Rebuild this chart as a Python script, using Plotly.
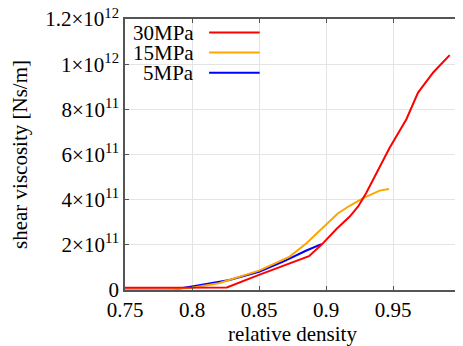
import plotly.graph_objects as go

# 30MPa
x30 = [0.75, 0.80, 0.826, 0.85, 0.8873, 0.8966, 0.9078, 0.9177, 0.924, 0.930, 0.9475, 0.96, 0.9687, 0.98, 0.9923]
y30 = [1.0e10, 1.0e10, 1.1e10, 6.7e10, 1.5e11, 2.0e11, 2.7e11, 3.25e11, 3.7e11, 4.3e11, 6.3e11, 7.56e11, 8.74e11, 9.63e11, 1.04e12]
# 15MPa
x15 = [0.75, 0.78, 0.80, 0.82, 0.85, 0.8729, 0.8854, 0.8978, 0.909, 0.9177, 0.9277, 0.940, 0.947]
y15 = [2e9, 2e9, 1.0e10, 3.0e10, 8.6e10, 1.48e11, 2.07e11, 2.79e11, 3.4e11, 3.73e11, 4.07e11, 4.4e11, 4.47e11]
# 5MPa
x5 = [0.75, 0.775, 0.7858, 0.80, 0.8207, 0.828, 0.85, 0.868, 0.8854, 0.8966]
y5 = [0, 0, 2e9, 1.5e10, 3.7e10, 4.4e10, 8.1e10, 1.26e11, 1.75e11, 2.03e11]

series = [("30MPa", x30, y30, "#ff0000"), ("15MPa", x15, y15, "#ffa500"), ("5MPa", x5, y5, "#0000ff")]

xticks = [0.75, 0.8, 0.85, 0.9, 0.95, 1.0]
xticklabels = ["0.75", "0.8", "0.85", "0.9", "0.95", "1"]
yticks = [0, 2e11, 4e11, 6e11, 8e11, 1e12, 1.2e12]
yticklabels = ["0", "2×10<sup>11</sup>", "4×10<sup>11</sup>", "6×10<sup>11</sup>",
               "8×10<sup>11</sup>", "1×10<sup>12</sup>", "1.2×10<sup>12</sup>"]

FONT = "serif"
FS = 21
fig = go.Figure()
for name, xs, ys, col in reversed(series):
    fig.add_trace(go.Scatter(x=xs, y=ys, mode="lines", name=name,
                             line=dict(color=col, width=2), showlegend=False))

# legend drawn as text + line sample (text left of sample, as in the reference)
leg_y = [0.950, 0.876, 0.802]
for (name, _, _, col), yy in zip(series, leg_y):
    fig.add_annotation(x=0.213, y=yy, xref="paper", yref="paper", text=name,
                       showarrow=False, xanchor="right", yanchor="middle",
                       font=dict(family=FONT, size=FS, color="black"))
    fig.add_shape(type="line", xref="paper", yref="paper", x0=0.251, x1=0.402,
                  y0=yy, y1=yy, line=dict(color=col, width=2))

axis_common = dict(showgrid=True, gridcolor="#e4e4e4", gridwidth=1,
                   showline=True, linecolor="#555555", linewidth=1.5, mirror="ticks",
                   ticks="inside", ticklen=4, tickcolor="#555555", ticklabeloverflow="allow",
                   tickfont=dict(family=FONT, size=FS, color="black"), zeroline=False)

fig.update_xaxes(range=[0.75, 1.0], tickvals=xticks, ticktext=xticklabels,
                 title=dict(text="relative density", font=dict(family=FONT, size=FS, color="black"), standoff=0),
                 **axis_common)
fig.update_yaxes(range=[0, 1.2e12], tickvals=yticks, ticktext=yticklabels,
                 title=dict(text="shear viscosity [Ns/m]", font=dict(family=FONT, size=FS, color="black"), standoff=12),
                 **axis_common)

fig.update_layout(width=455, height=338, margin=dict(l=117, r=3, t=11, b=56, autoexpand=False),
                  plot_bgcolor="white", paper_bgcolor="white",
                  font=dict(family=FONT, size=FS, color="black"))
fig.write_html("out.html")
